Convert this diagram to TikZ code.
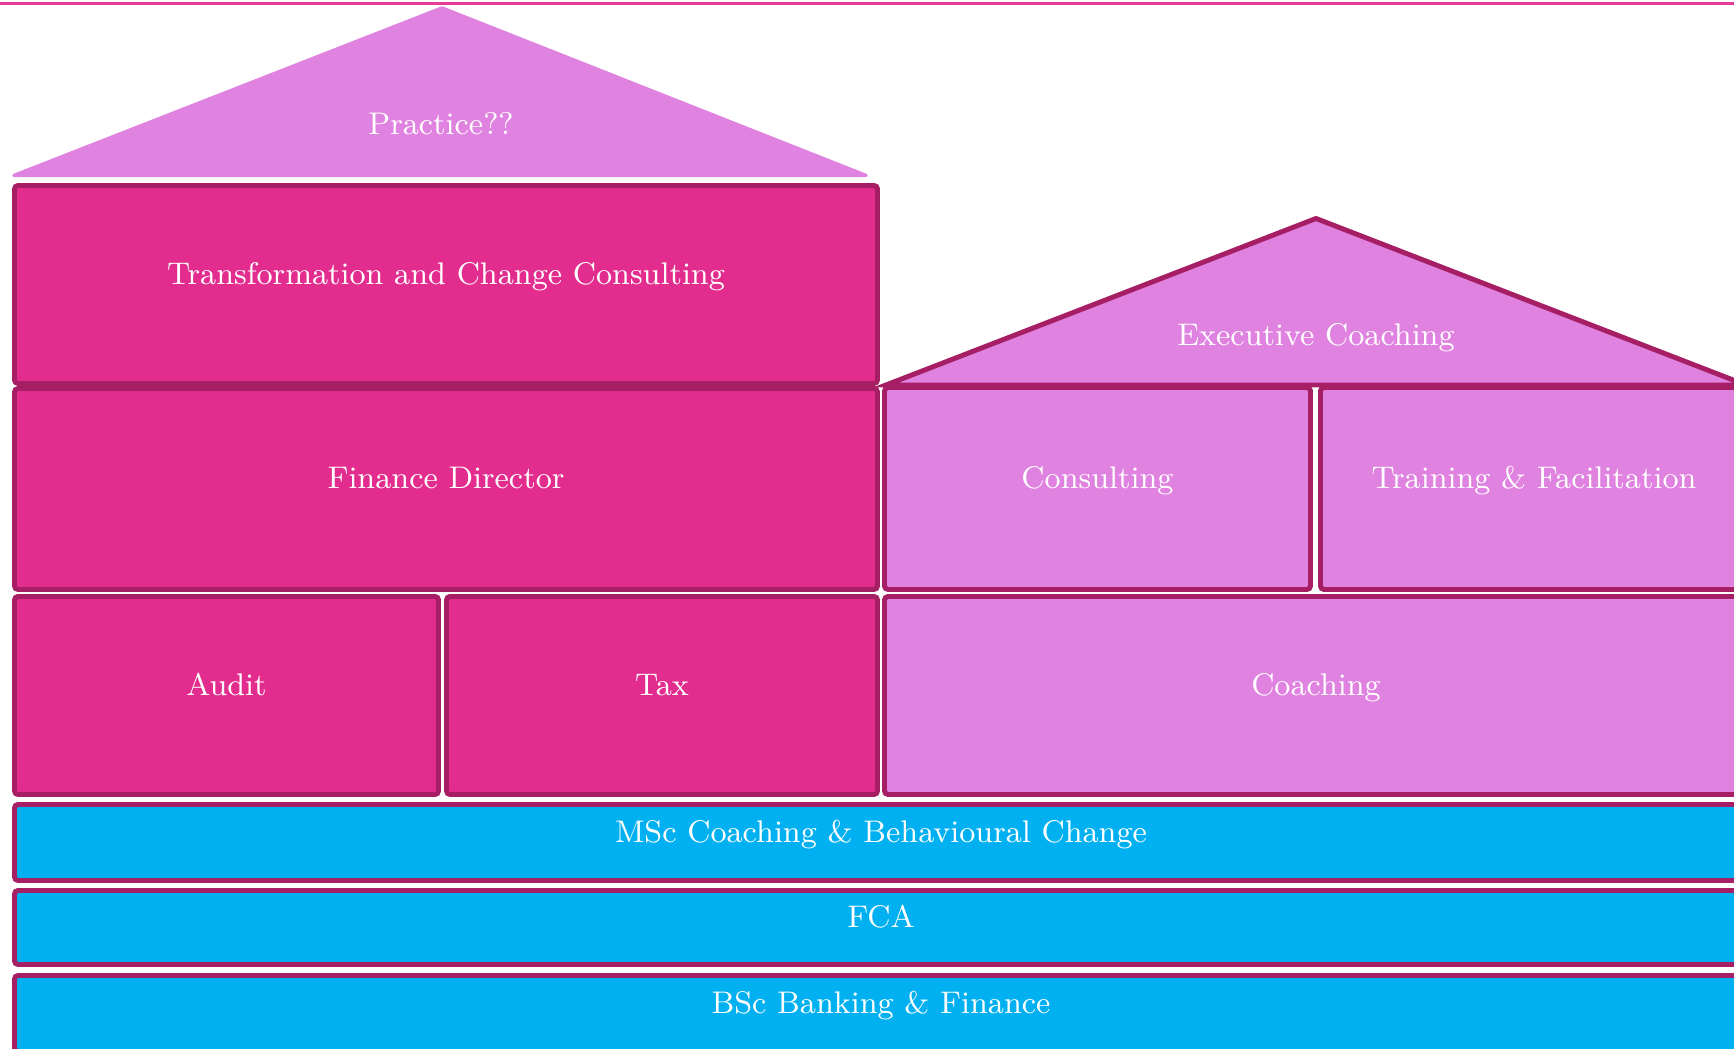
\documentclass[tikz,border=0pt]{standalone}
\definecolor{hotpink}{RGB}{227,45,142}
\definecolor{plum}{RGB}{166,30,100}
\definecolor{orchid}{RGB}{223,130,224}
\definecolor{sky}{RGB}{0,176,240}
\definecolor{rulepink}{RGB}{228,60,150}
\tikzset{
  box/.style={rectangle, draw=plum, line width=1.4pt, rounded corners=1pt, inner sep=0pt, outer sep=0pt,
    text=white, font=\fontsize{8.9}{10}\selectfont, text height=4pt, text depth=4pt},
  rooftxt/.style={text=white, font=\fontsize{8.9}{10}\selectfont, text height=4pt, text depth=4pt, inner sep=0pt}
}
\begin{document}
\begin{tikzpicture}
\useasboundingbox (0,0) rectangle (17.34,-10.49);
\clip (0,0) rectangle (17.34,-10.49);
\draw[rulepink, line width=0.7pt] (0,-0.037) -- (17.34,-0.037);
\filldraw[fill=orchid, draw=orchid, line width=1pt, line join=round] (0.14,-1.755) -- (4.42,-0.08) -- (8.66,-1.755) -- cycle;
\node[rooftxt] (practice) at (4.41,-1.35) {Practice??};
\node[box, fill=hotpink, minimum width=8.63cm, minimum height=1.98cm] (trans) at (4.46,-2.845) {Transformation and Change Consulting};
\node[box, fill=hotpink, minimum width=8.63cm, minimum height=2.01cm] (fd) at (4.46,-4.89) {Finance Director};
\node[box, fill=hotpink, minimum width=4.24cm, minimum height=1.98cm] (audit) at (2.265,-6.955) {Audit};
\node[box, fill=hotpink, minimum width=4.31cm, minimum height=1.98cm] (tax) at (6.62,-6.955) {Tax};
\filldraw[fill=orchid, draw=plum, line width=1.4pt, line join=miter] (8.86,-3.85) -- (13.16,-2.185) -- (17.46,-3.85) -- cycle;
\node[rooftxt] (exec) at (13.16,-3.46) {Executive Coaching};
\node[box, fill=orchid, minimum width=4.26cm, minimum height=2.02cm] (consult) at (10.975,-4.885) {Consulting};
\node[box, fill=orchid, minimum width=4.27cm, minimum height=2.02cm] (train) at (15.34,-4.885) {Training \& Facilitation};
\node[box, fill=orchid, minimum width=8.63cm, minimum height=1.98cm] (coach) at (13.16,-6.955) {Coaching};
\node[box, fill=sky, minimum width=17.33cm, minimum height=0.76cm] (msc) at (8.81,-8.425) {MSc Coaching \& Behavioural Change};
\node[box, fill=sky, minimum width=17.33cm, minimum height=0.74cm] (fca) at (8.81,-9.275) {FCA};
\node[box, fill=sky, minimum width=17.33cm, minimum height=0.76cm] (bsc) at (8.81,-10.135) {BSc Banking \& Finance};
\end{tikzpicture}
\end{document}
